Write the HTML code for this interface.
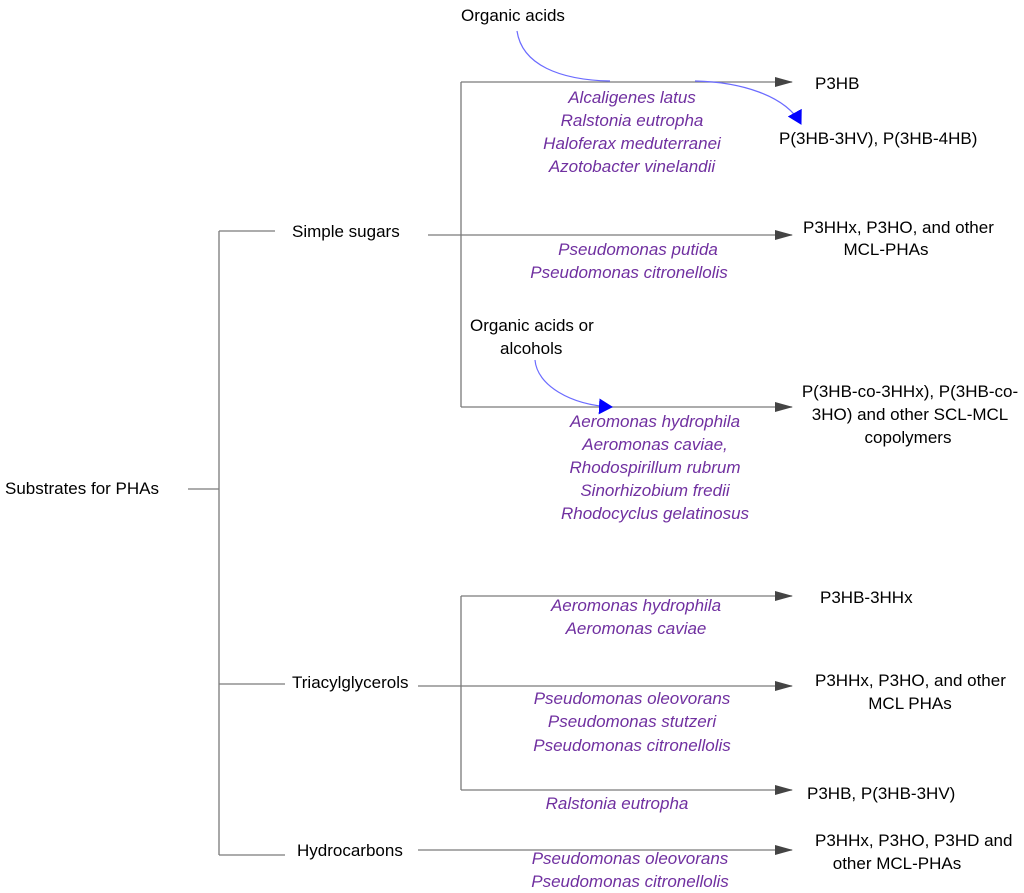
<!DOCTYPE html>
<html><head><meta charset="utf-8"><style>
html,body{margin:0;padding:0;background:#fff;}
svg{display:block;font-family:"Liberation Sans",sans-serif;font-size:17px;}
.k{fill:#000;}
.p{fill:#7030A0;font-style:italic;text-anchor:middle;}
.l{stroke:#7a7a7a;stroke-width:1.3;fill:none;}
</style></head><body>
<svg width="1024" height="893" viewBox="0 0 1024 893" xmlns="http://www.w3.org/2000/svg">
<defs>
<marker id="ag" markerWidth="18" markerHeight="10" refX="17" refY="5" orient="auto" markerUnits="userSpaceOnUse"><path d="M0,0 L18,5 L0,10 Z" fill="#444"/></marker>
<marker id="ab" markerWidth="14" markerHeight="16" refX="13" refY="8" orient="auto" markerUnits="userSpaceOnUse"><path d="M0,0 L14,8 L0,16 Z" fill="#0000ff"/></marker>
</defs>
<text class="k" x="5" y="494">Substrates for PHAs</text>
<path class="l" d="M188 489 H219 M219 231 V855 M219 231 H275 M219 684 H285 M219 855 H285"/>
<text class="k" x="292" y="237">Simple sugars</text>
<path class="l" d="M461 82 V407"/>
<path class="l" d="M461 82 H792" marker-end="url(#ag)"/>
<path class="l" d="M428 235 H792" marker-end="url(#ag)"/>
<path class="l" d="M461 407 H792" marker-end="url(#ag)"/>
<text class="k" x="292" y="688">Triacylglycerols</text>
<path class="l" d="M461 596 V790"/>
<path class="l" d="M461 596 H792" marker-end="url(#ag)"/>
<path class="l" d="M418 686 H792" marker-end="url(#ag)"/>
<path class="l" d="M461 790 H792" marker-end="url(#ag)"/>
<text class="k" x="297" y="856">Hydrocarbons</text>
<path class="l" d="M418 850 H792" marker-end="url(#ag)"/>
<text class="k" x="461" y="21">Organic acids</text>
<path d="M517 31 C522 65 560 80 610 81" stroke="#6b6bff" stroke-width="1.2" fill="none"/>
<path d="M695 81 C740 82 785 95 801 124" stroke="#6b6bff" stroke-width="1.2" fill="none" marker-end="url(#ab)"/>
<text class="k" x="470" y="331">Organic acids or</text>
<text class="k" x="500" y="354">alcohols</text>
<path d="M535 360 C537 385 570 405 612 407" stroke="#6b6bff" stroke-width="1.2" fill="none" marker-end="url(#ab)"/>
<text class="k" x="815" y="89">P3HB</text>
<text class="k" x="779" y="144">P(3HB-3HV), P(3HB-4HB)</text>
<text class="k" x="803" y="233">P3HHx, P3HO, and other</text>
<text class="k" x="886" y="255" text-anchor="middle">MCL-PHAs</text>
<text class="k" x="910" y="397" text-anchor="middle">P(3HB-co-3HHx), P(3HB-co-</text>
<text class="k" x="910" y="420" text-anchor="middle">3HO) and other SCL-MCL</text>
<text class="k" x="908" y="443" text-anchor="middle">copolymers</text>
<text class="k" x="820" y="603">P3HB-3HHx</text>
<text class="k" x="815" y="686">P3HHx, P3HO, and other</text>
<text class="k" x="910" y="709" text-anchor="middle">MCL PHAs</text>
<text class="k" x="807" y="799">P3HB, P(3HB-3HV)</text>
<text class="k" x="815" y="846">P3HHx, P3HO, P3HD and</text>
<text class="k" x="897" y="869" text-anchor="middle">other MCL-PHAs</text>
<text class="p" x="632" y="103">Alcaligenes latus</text>
<text class="p" x="632" y="126">Ralstonia eutropha</text>
<text class="p" x="632" y="149">Haloferax meduterranei</text>
<text class="p" x="632" y="172">Azotobacter vinelandii</text>
<text class="p" x="638" y="255">Pseudomonas putida</text>
<text class="p" x="629" y="278">Pseudomonas citronellolis</text>
<text class="p" x="655" y="427">Aeromonas hydrophila</text>
<text class="p" x="655" y="450">Aeromonas caviae,</text>
<text class="p" x="655" y="473">Rhodospirillum rubrum</text>
<text class="p" x="655" y="496">Sinorhizobium fredii</text>
<text class="p" x="655" y="519">Rhodocyclus gelatinosus</text>
<text class="p" x="636" y="611">Aeromonas hydrophila</text>
<text class="p" x="636" y="634">Aeromonas caviae</text>
<text class="p" x="632" y="704">Pseudomonas oleovorans</text>
<text class="p" x="632" y="727">Pseudomonas stutzeri</text>
<text class="p" x="632" y="751">Pseudomonas citronellolis</text>
<text class="p" x="617" y="809">Ralstonia eutropha</text>
<text class="p" x="630" y="864">Pseudomonas oleovorans</text>
<text class="p" x="630" y="887">Pseudomonas citronellolis</text>
</svg>
</body></html>
